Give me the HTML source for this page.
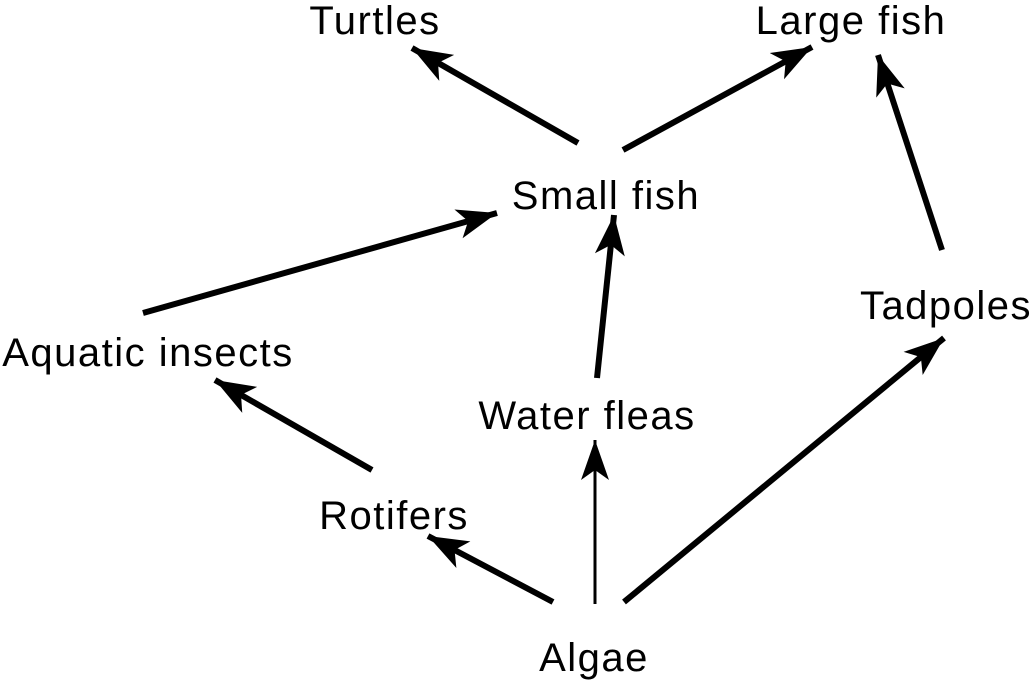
<!DOCTYPE html>
<html><head><style>body{margin:0;background:#fff}svg{display:block}</style></head>
<body>
<svg width="1035" height="680" xmlns="http://www.w3.org/2000/svg">
<defs>
<marker id="a" markerUnits="userSpaceOnUse" markerWidth="44" markerHeight="34" refX="40" refY="17" orient="auto">
<path d="M0,2 L40,17 L0,32 L10,17 Z" fill="#000"/>
</marker>
<marker id="b" markerUnits="userSpaceOnUse" markerWidth="44" markerHeight="34" refX="40" refY="17" orient="auto">
<path d="M0,3 L40,17 L0,31 L10,17 Z" fill="#000"/>
</marker>
</defs>
<g stroke="#000" stroke-width="6" fill="none">
<line x1="578" y1="143" x2="412" y2="48" marker-end="url(#a)"/>
<line x1="623" y1="150" x2="812" y2="47" marker-end="url(#a)"/>
<line x1="143" y1="313" x2="497" y2="213" marker-end="url(#a)"/>
<line x1="597" y1="378" x2="614" y2="215" marker-end="url(#a)"/>
<line x1="942" y1="250" x2="878" y2="55" marker-end="url(#a)"/>
<line x1="372" y1="470" x2="215" y2="380" marker-end="url(#a)"/>
<line x1="553" y1="602" x2="428" y2="536" marker-end="url(#a)"/>
<line x1="624" y1="602" x2="944" y2="338" marker-end="url(#a)"/>
<line x1="595" y1="604" x2="595" y2="440" stroke-width="3" marker-end="url(#b)"/>
</g>
<g font-family="Liberation Sans, sans-serif" font-size="40" letter-spacing="1.5" fill="#000">
<text x="375" y="34" text-anchor="middle">Turtles</text>
<text x="851" y="34" text-anchor="middle">Large fish</text>
<text x="606" y="209" text-anchor="middle">Small fish</text>
<text x="148" y="366" text-anchor="middle">Aquatic insects</text>
<text x="946" y="319" text-anchor="middle">Tadpoles</text>
<text x="587" y="429" text-anchor="middle">Water fleas</text>
<text x="394" y="529" text-anchor="middle">Rotifers</text>
<text x="594" y="671" text-anchor="middle">Algae</text>
</g>
</svg>
</body></html>
